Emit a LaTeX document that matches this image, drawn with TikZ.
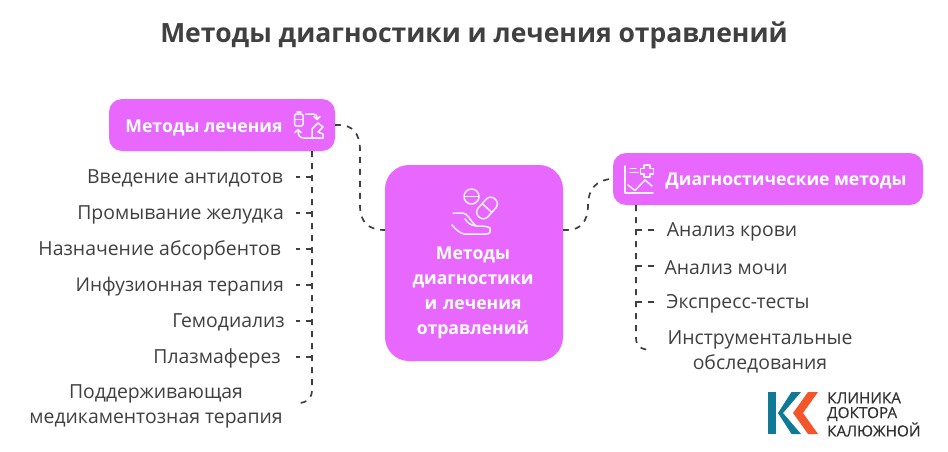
\documentclass[tikz,border=0pt]{standalone}
\usepackage{fontspec}
\setmainfont{Open Sans}
\usetikzlibrary{calc}
\definecolor{boxfill}{HTML}{E868FF}
\definecolor{ink}{HTML}{404040}
\definecolor{teal}{HTML}{0F7A96}
\definecolor{orng}{HTML}{F4552A}
\tikzset{
  x=1pt,y=-1pt,
  pinkbox/.style={fill=boxfill,draw=none,rounded corners=#1,inner sep=0pt,text=white},
  link/.style={draw=ink,line width=1.7pt,dash pattern=on 6pt off 6pt},
  item/.style={text=ink,font=\fontsize{19.4}{25.5}\selectfont,inner sep=0pt,align=center},
  boxlabel/.style={text=white,font=\fontsize{17.6}{25}\selectfont\bfseries,inner sep=0pt,align=center},
  ico/.style={draw=white!92!boxfill,line width=1.5pt,line cap=round,line join=round},
  brand/.style={text=ink!80!black,font=\fontsize{15.3}{16}\selectfont\addfontfeature{FakeBold=0.5},inner sep=0pt,anchor=west},
}
\begin{document}
\begin{tikzpicture}
\useasboundingbox (0,0) rectangle (948,452);
\node[text=ink,font=\fontsize{26.5}{34}\selectfont\bfseries,inner sep=0pt] (title) at (474,35) {Методы диагностики и лечения отравлений};
% boxes
\path[pinkbox=13pt] (109,99) rectangle (335,151);
\path[pinkbox=24pt] (385,165) rectangle (563,361);
\path[pinkbox=13pt] (613,153) rectangle (923,205);
\coordinate (lbS) at (312,151);
\coordinate (lbE) at (335,125);
\coordinate (cW) at (385,230);
\coordinate (cE) at (563,230);
\coordinate (rbW) at (613,179);
\coordinate (rbS) at (636,205);
\node[boxlabel] (lbl) at (204,127.5) {Методы лечения};
\node[boxlabel] (rbl) at (786,181.5) {Диагностические методы};
\node[boxlabel,text width=170pt] (cl) at (473,292.5) {Методы\\диагностики\\и лечения\\отравлений};
% left items
\node[item,anchor=east] (a1) at (283,178.5) {Введение антидотов};
\node[item,anchor=east] (a2) at (284,214.5) {Промывание желудка};
\node[item,anchor=east] (a3) at (281,250.5) {Назначение абсорбентов};
\node[item,anchor=east,font=\fontsize{19}{25.5}\selectfont] (a4) at (284,286.5) {Инфузионная терапия};
\node[item,anchor=east] (a5) at (285,322.5) {Гемодиализ};
\node[item,anchor=east] (a6) at (281,358.5) {Плазмаферез};
\node[item] (a7) at (156,406.5) {Поддерживающая\\медикаментозная терапия};
% right items
\node[item] (b1) at (732,232) {Анализ крови};
\node[item] (b2) at (726,267.5) {Анализ мочи};
\node[item] (b3) at (738,304) {Экспресс-тесты};
\node[item] (b4) at (760,352) {Инструментальные\\обследования};
% connectors
\draw[link] (lbE) -- ++(4,0) .. controls (352,125) and (360,133) .. (360,150) -- (360,205) .. controls (360,222) and (368,230) .. (cW);
\draw[link] (cE) -- ++(4,0) .. controls (580,230) and (588,222) .. (588,205) .. controls (588,190) and (596,179) .. (rbW);
\draw[link] (lbS) -- (312,390) .. controls (312,398) and (307,403) .. (298,403);
\foreach \y in {177,213,249,285,321,357} \draw[link] (312,\y) -- (296,\y);
\draw[link] (rbS) -- (636,338) .. controls (636,346) and (641,350) .. (652,350);
\foreach \y in {230,266,302} \draw[link] (636,\y) -- (654,\y);
% left icon
\draw[ico,rounded corners=2pt] (294.5,114) rectangle (303,126);
\draw[ico] (297,112) -- (301,112) (294.5,119.5) -- (303,119.5);
\draw[ico] (305.5,114) -- (313,114) .. controls (316,114) and (317,115) .. (317,119);
\draw[ico] (314,116.5) -- (317,119.5) -- (320,116.5);
\draw[ico] (319,138) -- (304,138) .. controls (300,138) and (298,136) .. (298,130);
\draw[ico] (295,132.5) -- (298,129.5) -- (301,132.5);
\draw[ico] (312,138) -- (312,129) -- (318,123) -- (323,127) -- (318,132) -- (323,134) -- (323,138) -- (312,138);
% centre icon
\draw[ico] (471.5,196.5) circle (7.5);
\draw[ico] (464,196.5) -- (479,196.5);
\begin{scope}[shift={(487,208)},rotate=48]
\draw[ico,rounded corners=6pt] (-12,-6.5) rectangle (12,6.5);
\draw[ico] (0,-6.5) -- (0,6.5);
\end{scope}
\draw[ico] (453,213) -- (463,213) .. controls (468,214) and (470,220) .. (474,224) -- (476,226) .. controls (480,226) and (488,226) .. (490,228) .. controls (491,233) and (489,234) .. (486,234) -- (464,234) .. controls (460,233) and (456,230) .. (452,225);
\draw[ico] (465,219) .. controls (468,223) and (470,225) .. (476,226);
% right icon
\draw[ico] (625,166) -- (625,193) -- (653,193);
\draw[ico] (630,168.5) -- (636,168.5) (630,172.5) -- (638,172.5);
\draw[ico] (644,165) -- (650,165) -- (650,168.5) -- (653.5,168.5) -- (653.5,174) -- (650,174) -- (650,177) -- (644,177) -- (644,174) -- (640.5,174) -- (640.5,168.5) -- (644,168.5) -- cycle;
\draw[ico] (628,185) -- (635,190.5) -- (645,180) -- (652,186);
% logo
\fill[teal] (768,392) rectangle (776,434);
\fill[teal] (791.5,392) -- (801,392) -- (783,413) -- (801,434) -- (791.5,434) -- (778,413) -- cycle;
\fill[orng] (808,392) -- (818,392) -- (803,413) -- (818,434) -- (808,434) -- (793,413) -- cycle;
\node[brand] (br1) at (827,398) {КЛИНИКА};
\node[brand] (br2) at (827,414) {ДОКТОРА};
\node[brand] (br3) at (827,429.5) {КАЛЮЖНОЙ};
\end{tikzpicture}
\end{document}
